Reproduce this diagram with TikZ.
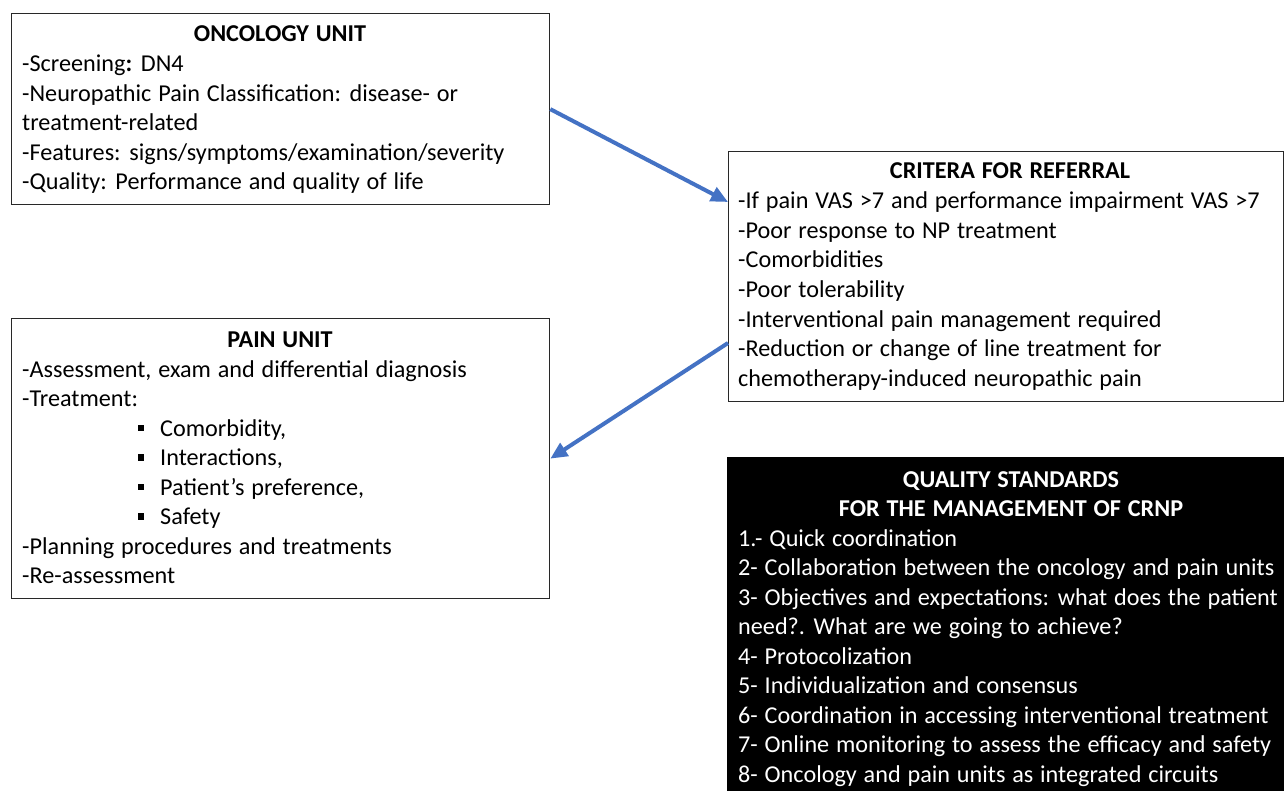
\documentclass[tikz,border=0pt]{standalone}
\usepackage{fontspec}
\setmainfont{Carlito}[WordSpace={1.25}]
\usetikzlibrary{arrows.meta}
\definecolor{arrowblue}{RGB}{68,114,196}
\definecolor{boxline}{RGB}{40,40,40}
\begin{document}
\begin{tikzpicture}[x=1pt,y=-1pt,
  txt/.style={anchor=base west, inner sep=0pt, font=\fontsize{24.2}{29.5}\selectfont},
  ttl/.style={anchor=base, inner sep=0pt, font=\fontsize{24.2}{29.5}\selectfont\bfseries},
  unitbox/.style={draw=boxline, line width=1.3pt, fill=white, anchor=north west, inner sep=0pt},
  darkbox/.style={draw=black, fill=black, anchor=north west, inner sep=0pt},
  bul/.style={fill=black, minimum size=6.5pt, inner sep=0pt},
  flow/.style={draw=arrowblue, line width=4pt, -{Triangle[length=17pt,width=15pt]}}
]
\path[use as bounding box, fill=white] (0,0) rectangle (1284,791);

% boxes
\node[unitbox, minimum width=538pt, minimum height=191pt] (onc) at (11,13) {};
\node[unitbox, minimum width=555pt, minimum height=250pt] (crit) at (728,151) {};
\node[unitbox, minimum width=538pt, minimum height=280pt] (pain) at (11,318) {};
\node[darkbox, minimum width=570pt, minimum height=345pt] (qual) at (727,457) {};

% oncology unit
\node[ttl] (o0) at (280,42) {ONCOLOGY UNIT};
\node[txt] (o1) at (22,72) {-Screening\textbf{:} DN4};
\node[txt] (o2) at (22,101.5) {-Neuropathic Pain Classification: disease- or};
\node[txt] (o3) at (22,131) {treatment-related};
\node[txt] (o4) at (22,160.5) {-Features: signs/symptoms/examination/severity};
\node[txt] (o5) at (22,190) {-Quality: Performance and quality of life};

% criteria
\node[ttl] (c0) at (1010,179) {CRITERA FOR REFERRAL};
\node[txt] (c1) at (738,209) {-If pain VAS >7 and performance impairment VAS >7};
\node[txt] (c2) at (738,238.5) {-Poor response to NP treatment};
\node[txt] (c3) at (738,268) {-Comorbidities};
\node[txt] (c4) at (738,297.5) {-Poor tolerability};
\node[txt] (c5) at (738,327) {-Interventional pain management required};
\node[txt] (c6) at (738,356.5) {-Reduction or change of line treatment for};
\node[txt] (c7) at (738,386) {chemotherapy-induced neuropathic pain};

% pain unit
\node[ttl] (p0) at (280,348) {PAIN UNIT};
\node[txt] (p1) at (22,377) {-Assessment, exam and differential diagnosis};
\node[txt] (p2) at (22,406.5) {-Treatment:};
\node[bul] (b1) at (141,428) {};
\node[txt] (p3) at (160,436) {Comorbidity,};
\node[bul] (b2) at (141,457.5) {};
\node[txt] (p4) at (160,465.5) {Interactions,};
\node[bul] (b3) at (141,487) {};
\node[txt] (p5) at (160,495) {Patient’s preference,};
\node[bul] (b4) at (141,516.5) {};
\node[txt] (p6) at (160,524.5) {Safety};
\node[txt] (p7) at (22,554) {-Planning procedures and treatments};
\node[txt] (p8) at (22,583.5) {-Re-assessment};

% quality standards
\begin{scope}[every node/.append style={text=white}]
\node[ttl] (q0) at (1011,487) {QUALITY STANDARDS};
\node[ttl] (q1) at (1011,516.5) {FOR THE MANAGEMENT OF CRNP};
\node[txt] (q2) at (738,546) {1.- Quick coordination};
\node[txt] (q3) at (738,575.5) {2- Collaboration between the oncology and pain units};
\node[txt] (q4) at (738,605) {3- Objectives and expectations: what does the patient};
\node[txt] (q5) at (738,634.5) {need?. What are we going to achieve?};
\node[txt] (q6) at (738,664) {4- Protocolization};
\node[txt] (q7) at (738,693.5) {5- Individualization and consensus};
\node[txt] (q8) at (738,723) {6- Coordination in accessing interventional treatment};
\node[txt] (q9) at (738,752.5) {7- Online monitoring to assess the efficacy and safety};
\node[txt] (q10) at (738,782) {8- Oncology and pain units as integrated circuits};
\end{scope}

% connectors
\coordinate (critin) at ([yshift=-51pt]crit.north west);
\coordinate (critout) at ([yshift=-192pt]crit.north west);
\draw[flow] (onc.east) -- (critin);
\draw[flow] (critout) -- (pain.east);
\end{tikzpicture}
\end{document}
